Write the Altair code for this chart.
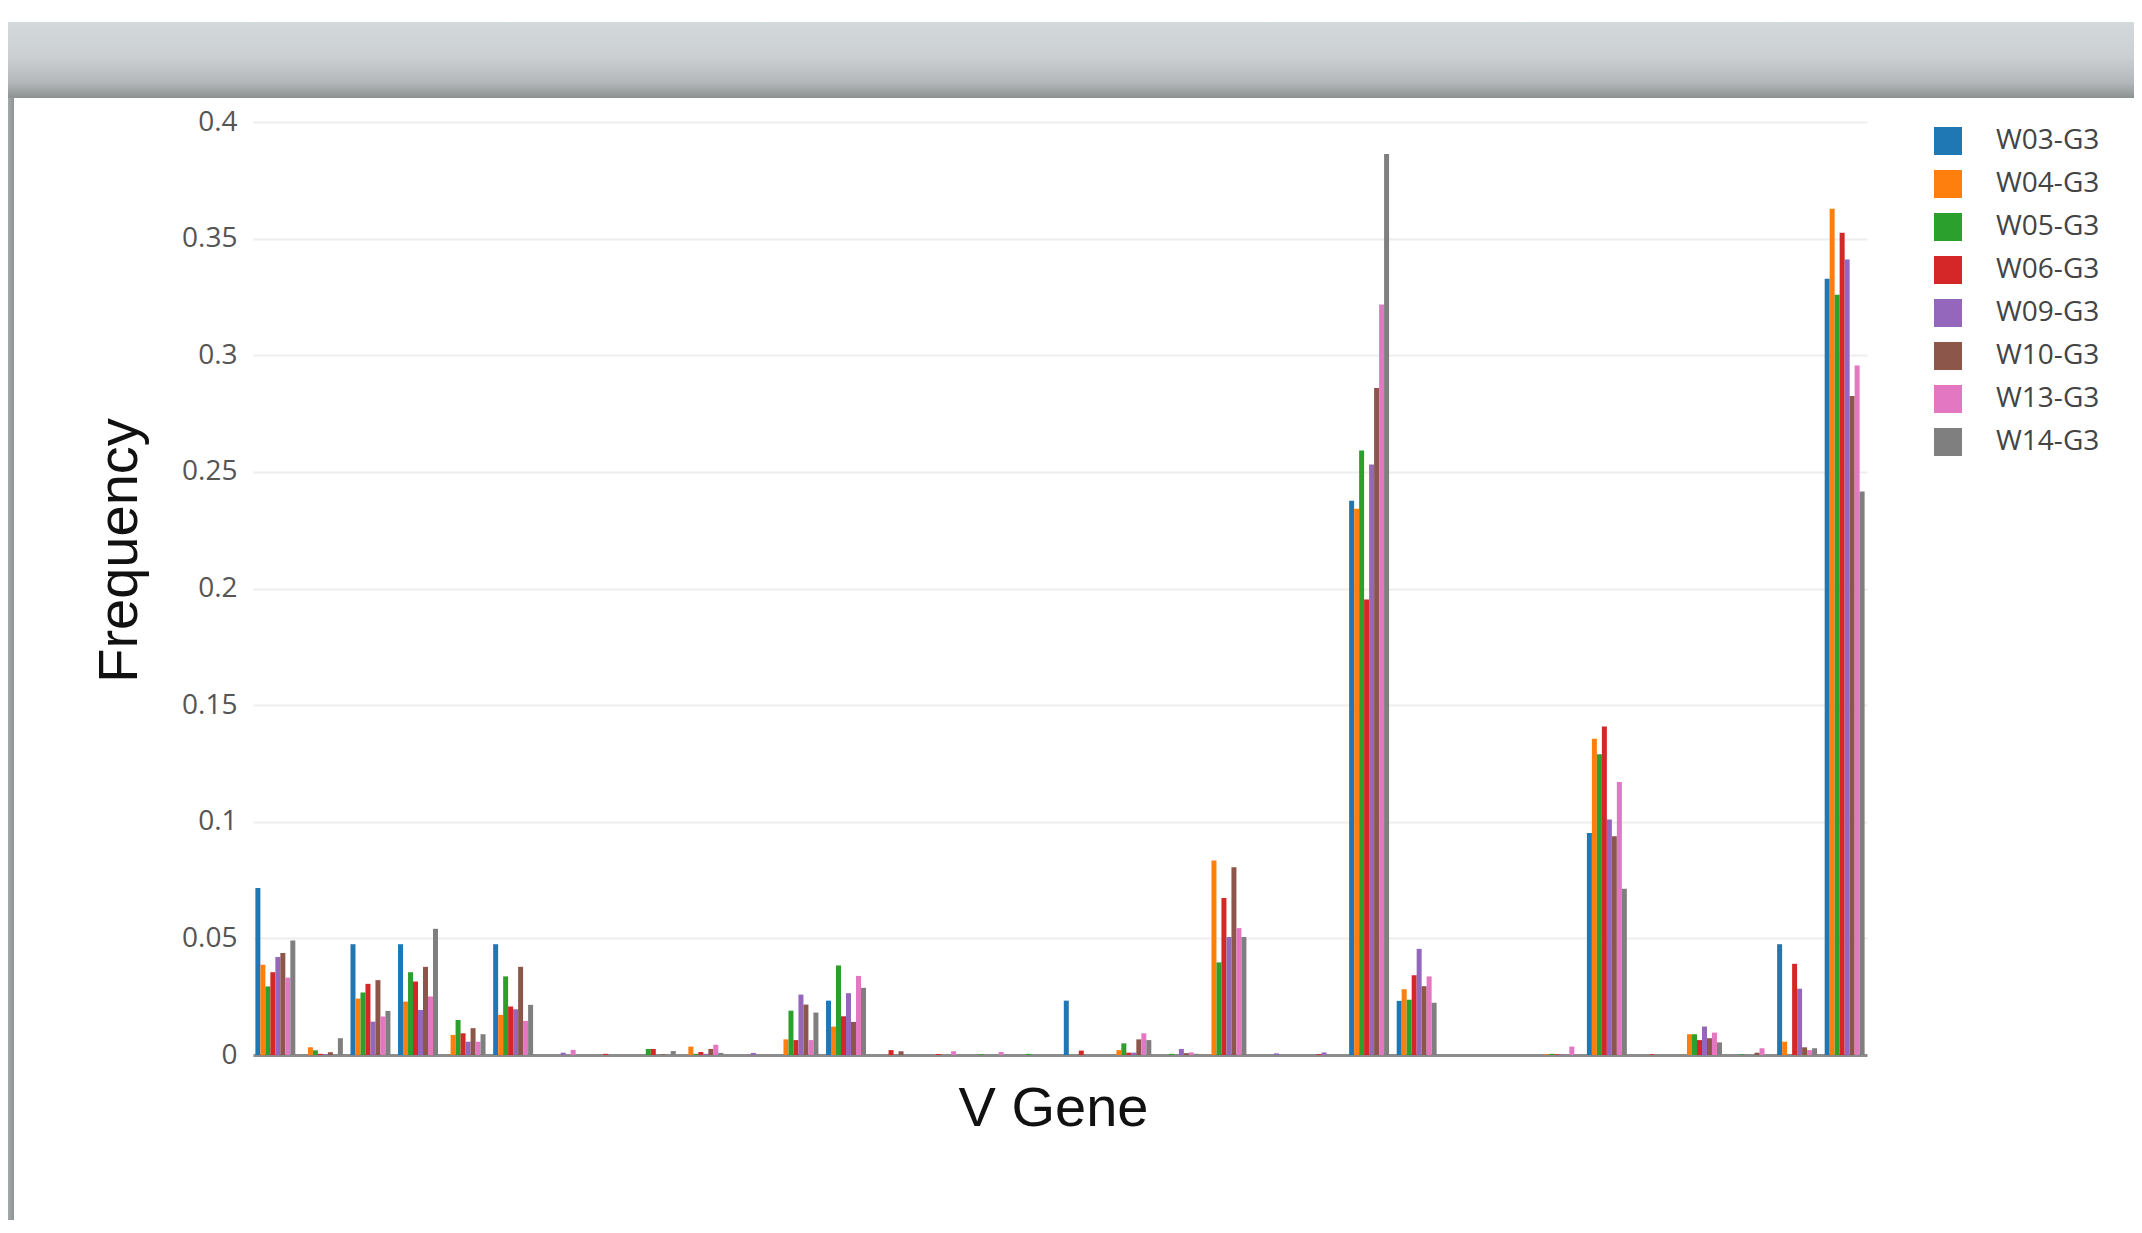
import altair as alt
import pandas as pd

# ---- data ----
genes = [f"V{i:02d}" for i in range(1, 35)]

samples = ["W03-G3", "W04-G3", "W05-G3", "W06-G3", "W09-G3", "W10-G3", "W13-G3", "W14-G3"]

colors = ["#1f77b4", "#ff7f0e", "#2ca02c", "#d62728", "#9467bd", "#8c564b", "#e377c2", "#7f7f7f"]

w03 = [0.0716, 0, 0.0475, 0.0475, 0, 0.0475, 0, 0, 0, 0, 0, 0, 0.0233, 0, 0, 0, 0,
       0.0233, 0, 0, 0, 0, 0, 0.2376, 0.0232, 0, 0, 0, 0.0952, 0, 0, 0, 0.0475, 0.3328]
w04 = [0.0387, 0.0033, 0.0242, 0.0229, 0.0086, 0.0172, 0, 0, 0, 0.0036, 0, 0.0067, 0.0122, 0, 0, 0, 0,
       0, 0.0021, 0, 0.0834, 0, 0, 0.2342, 0.0282, 0, 0, 0.0003, 0.1356, 0, 0.0089, 0, 0.0057, 0.3628]
w05 = [0.0294, 0.002, 0.0268, 0.0355, 0.015, 0.0337, 0, 0, 0.0026, 0.0005, 0, 0.019, 0.0384, 0, 0, 0.0003, 0.0005,
       0, 0.005, 0.0005, 0.0397, 0, 0, 0.2592, 0.0237, 0, 0, 0.0005, 0.1289, 0, 0.0089, 0.0003, 0, 0.3259]
w06 = [0.0355, 0.0005, 0.0305, 0.0315, 0.0093, 0.0208, 0, 0.0005, 0.0026, 0.0013, 0, 0.0064, 0.0166, 0.0021, 0.0004, 0, 0,
       0.0019, 0.001, 0, 0.0673, 0, 0.0004, 0.1953, 0.0342, 0, 0, 0.0003, 0.1408, 0.0003, 0.0064, 0, 0.0391, 0.3525]
w09 = [0.042, 0.0003, 0.0143, 0.0193, 0.0057, 0.0196, 0.001, 0, 0, 0.0005, 0.0009, 0.0259, 0.0265, 0, 0, 0, 0,
       0, 0.001, 0.0026, 0.0506, 0.0007, 0.0011, 0.2532, 0.0455, 0, 0, 0.0003, 0.101, 0, 0.0122, 0, 0.0284, 0.3411]
w10 = [0.0437, 0.0012, 0.0321, 0.0378, 0.0115, 0.0378, 0, 0, 0.0003, 0.0026, 0, 0.0216, 0.0142, 0.0016, 0, 0, 0,
       0, 0.0067, 0.0008, 0.0805, 0, 0, 0.286, 0.0295, 0, 0, 0, 0.0938, 0, 0.0072, 0.001, 0.0033, 0.2825]
w13 = [0.0332, 0, 0.0165, 0.0251, 0.0057, 0.0146, 0.0022, 0, 0, 0.0044, 0, 0.0064, 0.0339, 0, 0.0016, 0.0013, 0,
       0, 0.0093, 0.0011, 0.0544, 0, 0, 0.3218, 0.0337, 0, 0, 0.0036, 0.117, 0, 0.0096, 0.0029, 0.0021, 0.2956]
w14 = [0.0491, 0.0072, 0.0189, 0.0541, 0.0089, 0.0215, 0, 0, 0.0017, 0.0009, 0, 0.0182, 0.0288, 0, 0, 0, 0,
       0, 0.0064, 0.0005, 0.0506, 0, 0, 0.3863, 0.0224, 0, 0, 0, 0.0713, 0, 0.0054, 0, 0.0029, 0.2416]

y_ticks = [0, 0.05, 0.1, 0.15, 0.2, 0.25, 0.3, 0.35, 0.4]

series_values = [w03, w04, w05, w06, w09, w10, w13, w14]

rows = []
for s, vals in zip(samples, series_values):
    assert len(vals) == len(genes)
    for g, v in zip(genes, vals):
        rows.append({"gene": g, "sample": s, "freq": v})
df = pd.DataFrame(rows)

# ---- layout (pixels) ----
PW, PH = 1614, 933
PAD = {"left": 245, "top": 114, "right": 267, "bottom": 165}

# page decoration: grey header band and left shadow strip
deco = alt.Data(values=[{"k": 1}])
band = alt.Chart(deco).mark_rect(
    fill=alt.Gradient(
        gradient="linear",
        stops=[
            alt.GradientStop(color="#d3d8db", offset=0),
            alt.GradientStop(color="#ccd0d3", offset=0.45),
            alt.GradientStop(color="#b3b7b9", offset=0.8),
            alt.GradientStop(color="#8c9191", offset=1),
        ],
        x1=0, x2=0, y1=0, y2=1,
    )
).encode(x=alt.value(-245), x2=alt.value(PW + 267), y=alt.value(-100), y2=alt.value(-24))

strip = alt.Chart(deco).mark_rect(
    fill=alt.Gradient(
        gradient="linear",
        stops=[
            alt.GradientStop(color="#a4a8aa", offset=0),
            alt.GradientStop(color="#8f9393", offset=1),
        ],
        x1=0, x2=1, y1=0, y2=0,
    )
).encode(x=alt.value(-245), x2=alt.value(-239), y=alt.value(-24), y2=alt.value(PH + 165))

bars = alt.Chart(df).mark_bar().encode(
    x=alt.X(
        "gene:N",
        sort=genes,
        scale=alt.Scale(paddingInner=0.16, paddingOuter=0.05),
        axis=alt.Axis(
            labels=False, ticks=False, grid=False,
            domain=True, domainColor="#8c8c8c", domainWidth=3,
            title="V Gene", titleFont="Liberation Sans", titleFontSize=56,
            titleFontWeight="normal", titleColor="#111111", titlePadding=26,
            titleX=800, titleAlign="center",
        ),
    ),
    xOffset=alt.XOffset("sample:N", sort=samples),
    y=alt.Y(
        "freq:Q",
        scale=alt.Scale(domain=[0, 0.4], nice=False),
        axis=alt.Axis(
            values=y_ticks,
            labelExpr="datum.value == 0 ? '0' : format(datum.value, '.2~f')",
            grid=True, gridColor="#eeeeee", gridWidth=2,
            domain=False, ticks=False, tickSize=0, labelPadding=16,
            labelFont="Open Sans", labelFontSize=28, labelColor="#555555",
            title="Frequency", titleFont="Liberation Sans", titleFontSize=56,
            titleFontWeight="normal", titleColor="#111111",
            titleAngle=270, titleX=-117, titleY=428,
            titleAlign="center", titleBaseline="alphabetic",
        ),
    ),
    color=alt.Color(
        "sample:N",
        sort=samples,
        scale=alt.Scale(domain=samples, range=colors),
        legend=alt.Legend(
            title=None, orient="none", legendX=1681, legendY=5,
            symbolType="square", symbolSize=784, symbolStrokeWidth=0,
            labelFont="Open Sans", labelFontSize=28, labelColor="#444444",
            labelOffset=34, rowPadding=15, padding=0,
        ),
    ),
)

chart = alt.layer(band, strip, bars).properties(
    width=PW, height=PH, padding=PAD,
    autosize=alt.AutoSizeParams(type="none"),
    background="white",
).configure_view(stroke=None)

chart.save("out.html", embed_options={"renderer": "svg", "actions": False})
